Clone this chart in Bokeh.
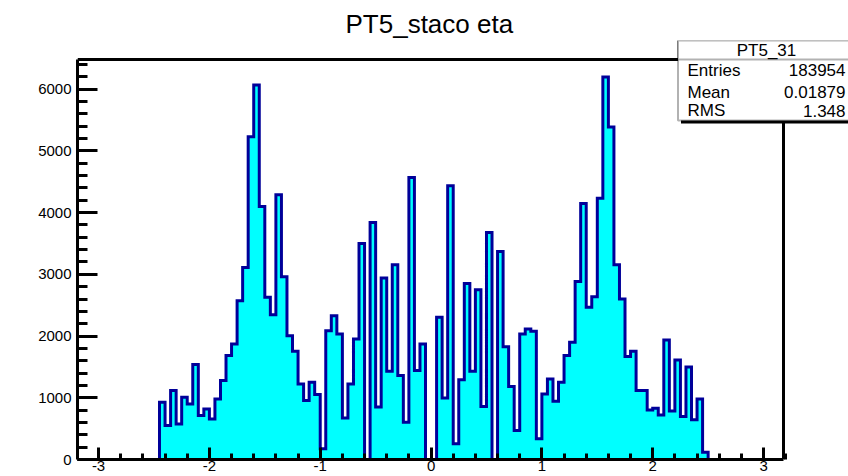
import numpy as np
from bokeh.plotting import figure
from bokeh.models import Range1d, FixedTicker, BoxAnnotation, Label
from bokeh.embed import file_html
from bokeh.resources import INLINE

# PT5_31: staco muon eta, 100 bins between -2.5 and 2.5
eta_min = -2.5
eta_max = 2.5
n_bins = 100
counts = [
    0, 927, 550, 1117, 577, 1008, 901, 1537, 712, 820,
    658, 982, 1278, 1683, 1872, 2573, 3112, 5227, 6068, 4099,
    2627, 2346, 4288, 2961, 2006, 1753, 1225, 955, 1251, 1052,
    173, 2087, 2330, 2033, 674, 1225, 1952, 3500, 0, 3840,
    850, 2940, 1429, 3155, 1359, 604, 4570, 1440, 1872, 0,
    0, 2303, 998, 4434, 254, 1290, 2853, 1429, 2750, 860,
    3678, 0, 3371, 1828, 1181, 469, 2033, 2113, 2076, 335,
    1063, 1306, 944, 1251, 1683, 1898, 2885, 4148, 2465, 2638,
    4234, 6197, 5388, 3155, 2600, 1667, 1753, 1117, 1117, 803,
    830, 722, 1935, 787, 1612, 696, 1500, 642, 982, 119,
]

title_text = "PT5_staco eta"
stats_name = "PT5_31"
stats_keys = ["Entries", "Mean", "RMS"]
stats_vals = ["183954", "0.01879", "1.348"]

x_major = [-3, -2, -1, 0, 1, 2, 3]
y_major = [0, 1000, 2000, 3000, 4000, 5000, 6000]

# visible axis extent (the pad frame)
x_lo, x_hi = -3.19, 3.18
y_lo, y_hi = 0, 6480

FONT = "Liberation Sans"
FILL = "#00ffff"
EDGE = "#000099"

edges = np.linspace(eta_min, eta_max, n_bins + 1)
vals = np.asarray(counts, dtype=float)

# outer contour of the histogram (one polyline, no inner bin walls)
path_x = np.repeat(edges, 2)
path_y = np.concatenate([[0.0], np.repeat(vals, 2), [0.0]])

# The plotting area runs to the right/top canvas edge so that the stats box,
# which hangs over the frame corner, is not clipped; the axes are bounded.
px_per_x = 706 / (x_hi - x_lo)
px_per_y = 400 / (y_hi - y_lo)
p = figure(
    width=848, height=476,
    x_range=Range1d(x_lo, x_hi + 65 / px_per_x),
    y_range=Range1d(y_lo, y_hi + 19 / px_per_y),
    output_backend="svg", toolbar_location=None,
    min_border_left=77, min_border_right=0,
    min_border_top=40, min_border_bottom=17,
)
p.background_fill_color = "white"
p.border_fill_color = "white"
p.outline_line_color = None
p.xgrid.visible = False
p.ygrid.visible = False

p.title.text = title_text
p.title.align = "left"
p.title.offset = 268
p.title.text_font = FONT
p.title.text_font_size = "26px"
p.title.text_font_style = "normal"
p.title.text_color = "black"
p.title.standoff = 3

p.patch(path_x, path_y, fill_color=FILL, line_color=None)
p.line(path_x, path_y, line_color=EDGE, line_width=3, line_join="miter")

# top and right sides of the frame
p.line([x_lo, x_hi, x_hi], [y_hi, y_hi, y_lo], line_color="black",
       line_width=3, line_join="miter")

# axes with inward ticks
x_minor = [round(v, 1) for v in np.arange(-3.2, 3.21, 0.2)]
y_minor = list(range(0, 6500, 200))
p.xaxis.ticker = FixedTicker(ticks=x_major, minor_ticks=x_minor)
p.yaxis.ticker = FixedTicker(ticks=y_major, minor_ticks=y_minor)
p.xaxis.major_label_overrides = {v: str(v) for v in x_major}
p.xaxis.bounds = (x_lo, x_hi)
p.yaxis.bounds = (y_lo, y_hi)

for ax in (p.xaxis[0], p.yaxis[0]):
    ax.axis_line_width = 3
    ax.axis_line_color = "black"
    ax.major_tick_line_width = 3
    ax.minor_tick_line_width = 3
    ax.major_tick_out = 0
    ax.minor_tick_out = 0
    ax.major_label_text_font = FONT
    ax.major_label_text_font_size = "15px"
    ax.major_label_text_color = "black"

p.xaxis.major_tick_in = 12
p.xaxis.minor_tick_in = 6
p.xaxis.major_label_standoff = 1
p.yaxis.major_tick_in = 20
p.yaxis.minor_tick_in = 10
p.yaxis.major_label_standoff = 6

# statistics box (frame-relative screen units)
def screen_box(left, right, top, bottom, **kw):
    return BoxAnnotation(left=left, right=right, top=top, bottom=bottom,
                         left_units="screen", right_units="screen",
                         top_units="screen", bottom_units="screen",
                         level="overlay", **kw)

p.add_layout(screen_box(603.5, 800, 416, 336, fill_color="black",
                        fill_alpha=1.0, line_color=None))
p.add_layout(screen_box(600.5, 795, 419, 339, fill_color="white",
                        fill_alpha=1.0, line_color="black", line_width=2))
p.add_layout(screen_box(600.5, 795, 419, 400, fill_color="white",
                        fill_alpha=1.0, line_color="black", line_width=2))

p.add_layout(Label(x=689, y=409.5, x_units="screen", y_units="screen",
                   text=stats_name, text_align="center", text_baseline="middle",
                   text_font=FONT, text_font_size="17px", text_color="black",
                   level="overlay"))
row_y = [389.5, 367.5, 349]
for key, val, yy in zip(stats_keys, stats_vals, row_y):
    p.add_layout(Label(x=610, y=yy, x_units="screen", y_units="screen",
                       text=key, text_align="left", text_baseline="middle",
                       text_font=FONT, text_font_size="17px", text_color="black",
                       level="overlay"))
    p.add_layout(Label(x=768, y=yy, x_units="screen", y_units="screen",
                       text=val, text_align="right", text_baseline="middle",
                       text_font=FONT, text_font_size="17px", text_color="black",
                       level="overlay"))

open("out.html", "w").write(file_html(p, INLINE))
